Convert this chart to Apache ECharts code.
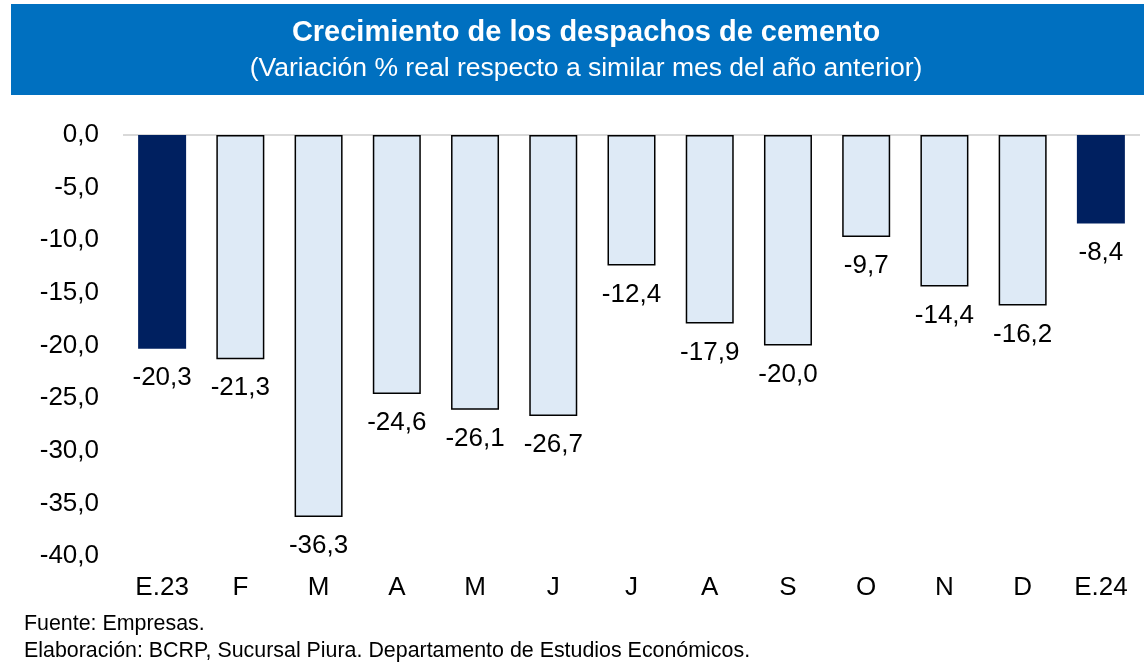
<!DOCTYPE html>
<html>
<head>
<meta charset="utf-8">
<script src="https://cdn.jsdelivr.net/npm/echarts@6/dist/echarts.min.js"></script>
<style>
  html, body { margin: 0; padding: 0; background: #fff; }
  #chart { width: 1144px; height: 664px; }
</style>
</head>
<body>
<div id="chart"></div>
<script>
// datos
const meses = ['E.23', 'F', 'M', 'A', 'M', 'J', 'J', 'A', 'S', 'O', 'N', 'D', 'E.24'];
const variacion = [-20.3, -21.3, -36.3, -24.6, -26.1, -26.7, -12.4, -17.9, -20.0, -9.7, -14.4, -16.2, -8.4];
const destacados = [0, 12]; // barras oscuras (enero)

const fmt = v => v.toFixed(1).replace('.', ',');
const fuente = 'Liberation Sans, Arial, sans-serif';

const chart = echarts.init(document.getElementById('chart'));

const datos = variacion.map((v, i) => {
  const osc = destacados.includes(i);
  return {
    value: v,
    itemStyle: osc
      ? { color: '#002060', borderWidth: 0 }
      : { color: '#DEEAF6', borderColor: '#000', borderWidth: 1.5 }
  };
});

chart.setOption({
  animation: false,
  textStyle: { fontFamily: fuente },
  graphic: [
    // franja azul del título
    { type: 'rect', shape: { x: 11, y: 4, width: 1133, height: 91 }, style: { fill: '#0070C0' } },
    { type: 'text', x: 586, y: 33, style: { text: 'Crecimiento de los despachos de cemento', fill: '#fff', font: 'bold 29px ' + fuente, textAlign: 'center', textVerticalAlign: 'middle' } },
    { type: 'text', x: 586, y: 69, style: { text: '(Variación % real respecto a similar mes del año anterior)', fill: '#fff', font: '26.5px ' + fuente, textAlign: 'center', textVerticalAlign: 'middle' } },
    { type: 'text', x: 24, y: 624, style: { text: 'Fuente: Empresas.', fill: '#000', font: '21.4px ' + fuente, textVerticalAlign: 'middle' } },
    { type: 'text', x: 24, y: 651, style: { text: 'Elaboración: BCRP, Sucursal Piura. Departamento de Estudios Económicos.', fill: '#000', font: '21.4px ' + fuente, textVerticalAlign: 'middle' } }
  ],
  grid: { left: 123, right: 4, top: 135, bottom: 108 },
  xAxis: {
    type: 'category',
    data: meses,
    axisLine: { show: false },
    axisTick: { show: false },
    axisLabel: { color: '#000', fontSize: 26, margin: 19 }
  },
  yAxis: {
    type: 'value',
    min: -40,
    max: 0,
    interval: 5,
    splitLine: { show: false },
    axisLabel: { color: '#000', fontSize: 26, margin: 24, formatter: fmt }
  },
  series: [{
    type: 'bar',
    data: datos,
    barWidth: 48,
    label: {
      show: true,
      position: 'bottom',
      distance: 16,
      color: '#000',
      fontSize: 26,
      formatter: p => fmt(p.value)
    },
    markLine: {
      silent: true,
      symbol: 'none',
      label: { show: false },
      lineStyle: { color: '#D9D9D9', type: 'solid', width: 2 },
      data: [{ yAxis: 0 }],
      z: 1
    }
  }]
});
</script>
</body>
</html>
